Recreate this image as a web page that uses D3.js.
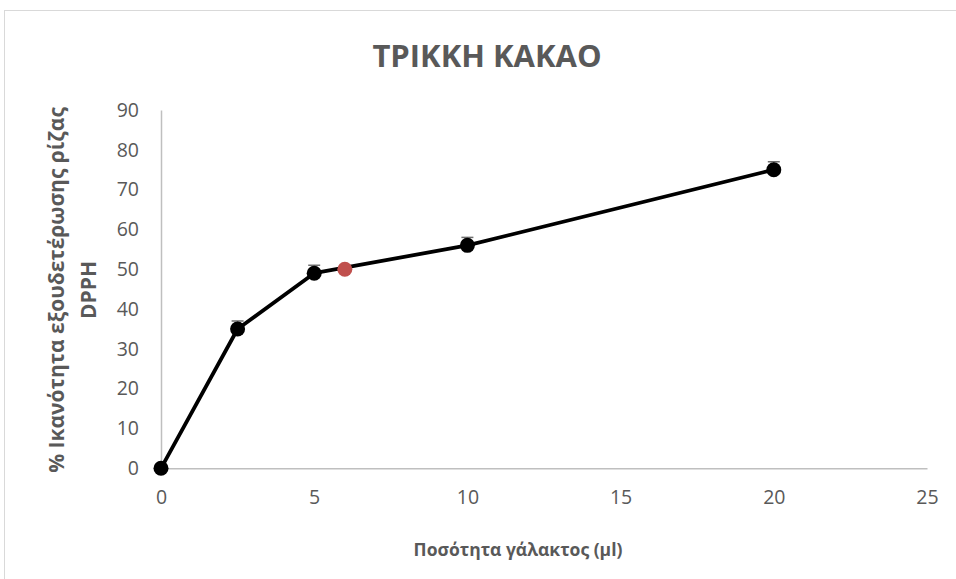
<!DOCTYPE html>
<html><head><meta charset="utf-8">
<script src="https://cdn.jsdelivr.net/npm/d3@7"></script>
<style>body{margin:0;background:#fff}svg{display:block}</style>
</head><body>
<svg id="c" width="956" height="579"></svg>
<script>
const title = "ΤΡΙΚΚΗ ΚΑΚΑΟ";
const xTitle = "Ποσότητα γάλακτος (μl)";
const yTitleLines = ["% Ικανότητα εξουδετέρωσης ρίζας", "DPPH"];
const xValues = [0, 2.5, 5, 10, 20];
const yValues = [0, 35, 49, 56, 75];
const yErrors = [0, 2, 2, 2, 2];
const redPoint = [{x: 6, y: 50}];
const xTicks = [0, 5, 10, 15, 20, 25];
const yTicks = [0, 10, 20, 30, 40, 50, 60, 70, 80, 90];

const svg = d3.select("#c");
const font = "'Open Sans', sans-serif";
const x = d3.scaleLinear().domain([0, 25]).range([161, 927]);
const y = d3.scaleLinear().domain([0, 90]).range([468.3, 110]);

svg.append("rect").attr("x", 4.5).attr("y", 10.5).attr("width", 960).attr("height", 600)
  .attr("fill", "#fff").attr("stroke", "#d9d9d9").attr("stroke-width", 1);

// axes
const xa = svg.append("g").attr("transform", `translate(0,${y(0)})`)
  .call(d3.axisBottom(x).tickValues(xTicks).tickSize(0).tickPadding(22));
xa.select(".domain").attr("stroke", "#bfbfbf").attr("stroke-width", 1.5);
xa.selectAll("text").style("font-family", font).style("font-size", "19.5px").attr("fill", "#595959");

const ya = svg.append("g").attr("transform", `translate(${x(0)},0)`)
  .call(d3.axisLeft(y).tickValues(yTicks).tickSize(0).tickPadding(22));
ya.select(".domain").attr("stroke", "#bfbfbf").attr("stroke-width", 1.5);
ya.selectAll("text").style("font-family", font).style("font-size", "19.5px").attr("fill", "#595959");

// title
svg.append("text").attr("x", 487).attr("y", 67).attr("text-anchor", "middle")
  .style("font-family", font).attr("font-weight", "bold").style("font-size", "31px")
  .attr("fill", "#595959").text(title);

svg.append("text").attr("x", 518).attr("y", 556).attr("text-anchor", "middle")
  .style("font-family", font).attr("font-weight", "bold").style("font-size", "17.5px")
  .attr("fill", "#595959").text(xTitle);

const yt = svg.append("text").attr("transform", "translate(0,290) rotate(-90)")
  .attr("text-anchor", "middle").style("font-family", font).attr("font-weight", "bold")
  .style("font-size", "21px").attr("fill", "#595959");
yt.selectAll("tspan").data(yTitleLines).join("tspan")
  .attr("x", 0).attr("y", (d, i) => 64 + i * 32).text(d => d);

const pts = xValues.map((v, i) => ({x: v, y: yValues[i], e: yErrors[i]}));

// error bars (plus direction)
const eb = svg.append("g").attr("stroke", "#6f6f6f").attr("stroke-width", 1.5);
pts.filter(d => d.e > 0).forEach(d => {
  eb.append("line").attr("x1", x(d.x)).attr("x2", x(d.x)).attr("y1", y(d.y)).attr("y2", y(d.y + d.e));
  eb.append("line").attr("x1", x(d.x) - 6).attr("x2", x(d.x) + 6).attr("y1", y(d.y + d.e)).attr("y2", y(d.y + d.e));
});

svg.append("path").datum(pts)
  .attr("d", d3.line().x(d => x(d.x)).y(d => y(d.y)))
  .attr("fill", "none").attr("stroke", "#000").attr("stroke-width", 3.8).attr("stroke-linejoin", "round");

svg.append("g").selectAll("circle").data(pts).join("circle")
  .attr("cx", d => x(d.x)).attr("cy", d => y(d.y)).attr("r", 7.5).attr("fill", "#000");

svg.append("g").selectAll("circle").data(redPoint).join("circle")
  .attr("cx", d => x(d.x)).attr("cy", d => y(d.y)).attr("r", 7.5).attr("fill", "#c0504d");
</script>
</body></html>
